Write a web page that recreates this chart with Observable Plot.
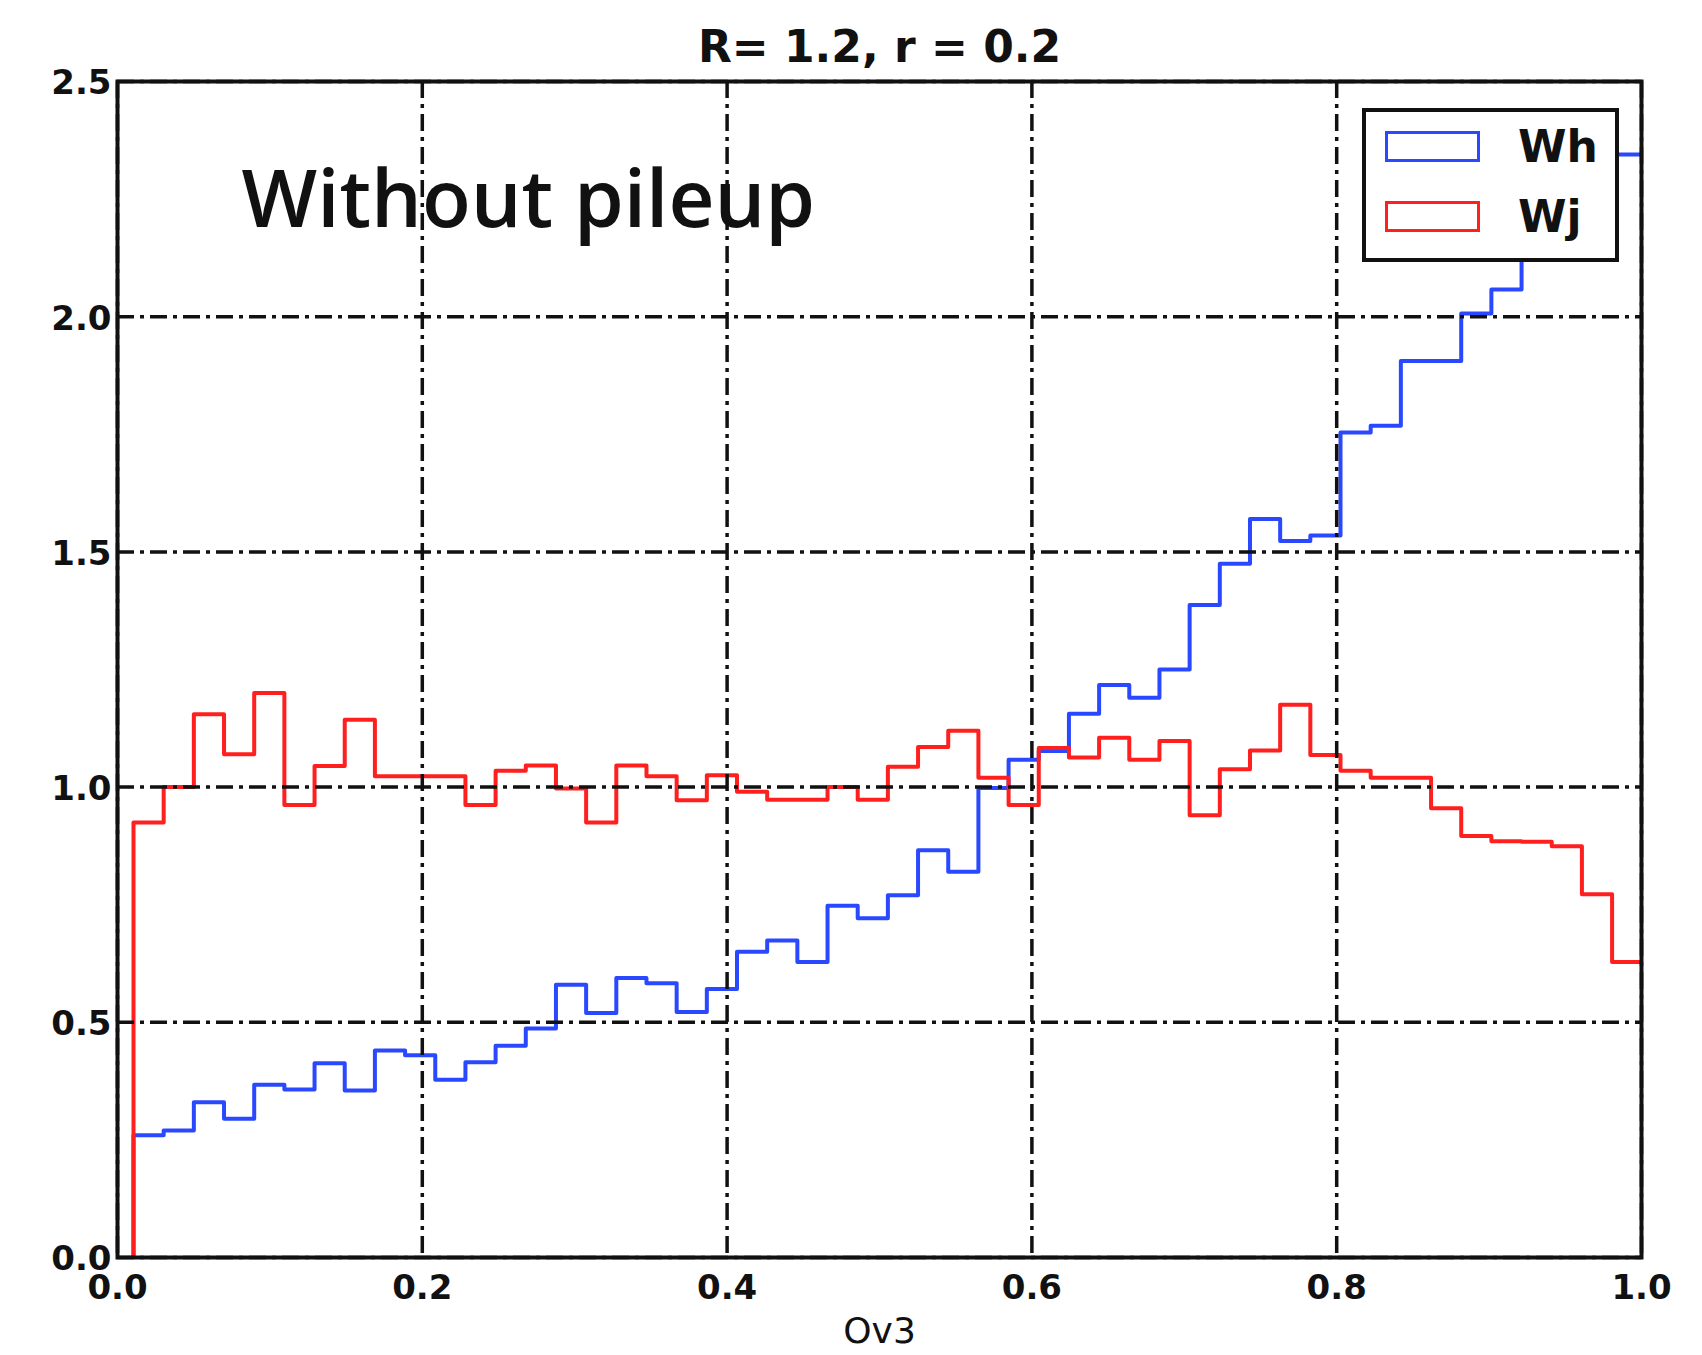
<!DOCTYPE html>
<html>
<head>
<meta charset="utf-8">
<script src="https://cdn.jsdelivr.net/npm/d3@7"></script>
<script src="https://cdn.jsdelivr.net/npm/@observablehq/plot@0.6"></script>
<style>
  html, body { margin: 0; padding: 0; background: white; }
  #wrap { position: relative; width: 1702px; height: 1355px; font-family: "DejaVu Sans", sans-serif; }
  #legend { position: absolute; left: 1362px; top: 108px; width: 249px; height: 146px; border: 4px solid #111; background: white; }
  .sw { position: absolute; left: 19px; width: 95px; height: 31px; border: 3.5px solid; box-sizing: border-box; }
  .lab { position: absolute; left: 152px; font-size: 44px; line-height: 46px; font-weight: bold; color: #111; }
</style>
</head>
<body>
<div id="wrap"></div>
<script>
// ---- data ----
const title = "R= 1.2, r = 0.2";
const xLabel = "Ov3";
const annotation = "Without pileup";
const seriesNames = ["Wh", "Wj"];
const seriesColors = ["#2a48ff", "#ff1f1f"];
const xTicks = [0.0, 0.2, 0.4, 0.6, 0.8, 1.0];
const yTicks = [0.0, 0.5, 1.0, 1.5, 2.0, 2.5];
const binEdges = [0.0105, 0.0303, 0.0501, 0.0699, 0.0897, 0.1095, 0.1293, 0.1491, 0.1689, 0.1887,
  0.2085, 0.2283, 0.2481, 0.2679, 0.2877, 0.3075, 0.3273, 0.3471, 0.3669, 0.3867,
  0.4065, 0.4263, 0.4461, 0.4659, 0.4857, 0.5055, 0.5253, 0.5451, 0.5649, 0.5847,
  0.6045, 0.6243, 0.6441, 0.6639, 0.6837, 0.7035, 0.7233, 0.7431, 0.7629, 0.7827,
  0.8025, 0.8223, 0.8421, 0.8619, 0.8817, 0.9015, 0.9213, 0.9411, 0.9609, 0.9807, 1.0];
const whValues = [0.26, 0.27, 0.33, 0.295, 0.367, 0.357, 0.413, 0.355, 0.44, 0.43,
  0.378, 0.415, 0.45, 0.487, 0.58, 0.52, 0.594, 0.583, 0.522, 0.571,
  0.65, 0.674, 0.628, 0.748, 0.721, 0.77, 0.866, 0.82, 0.998, 1.058,
  1.077, 1.156, 1.217, 1.19, 1.25, 1.387, 1.475, 1.57, 1.523, 1.535,
  1.754, 1.768, 1.906, 1.906, 2.007, 2.058, 2.17, 2.24, 2.3, 2.345];
const wjValues = [0.925, 1.0, 1.155, 1.07, 1.2, 0.962, 1.045, 1.143, 1.023, 1.023,
  1.023, 0.962, 1.035, 1.046, 0.997, 0.925, 1.046, 1.023, 0.972, 1.025,
  0.99, 0.973, 0.973, 1.0, 0.973, 1.043, 1.085, 1.12, 1.02, 0.962,
  1.083, 1.063, 1.105, 1.058, 1.098, 0.94, 1.038, 1.078, 1.175, 1.068,
  1.035, 1.02, 1.02, 0.955, 0.896, 0.885, 0.884, 0.874, 0.772, 0.628];

// ---- build step outlines (histtype='step'); the closing edge at x=1 lies under the frame ----
function stepRows(values, name) {
  const rows = [{x: binEdges[0], y: 0, s: name}];
  values.forEach((v, i) => rows.push({x: binEdges[i], y: v, s: name}));
  const n = values.length;
  rows.push({x: binEdges[n], y: values[n - 1], s: name});
  return rows;
}
const whRows = stepRows(whValues, seriesNames[0]);
const wjRows = stepRows(wjValues, seriesNames[1]);

const dash = "17,6,4,6";
const chart = Plot.plot({
  width: 1702,
  height: 1355,
  marginLeft: 117,
  marginRight: 61,
  marginTop: 81,
  marginBottom: 98,
  style: {fontFamily: "DejaVu Sans, sans-serif", background: "white", color: "#111"},
  x: {domain: [0, 1]},
  y: {domain: [0, 2.5]},
  marks: [
    Plot.line(whRows, {x: "x", y: "y", curve: "step-after", stroke: seriesColors[0], strokeWidth: 4, clip: true}),
    Plot.line(wjRows, {x: "x", y: "y", curve: "step-after", stroke: seriesColors[1], strokeWidth: 4, clip: true}),
    Plot.gridX(xTicks, {stroke: "#111", strokeOpacity: 1, strokeWidth: 3.5, strokeDasharray: dash}),
    Plot.gridY(yTicks, {stroke: "#111", strokeOpacity: 1, strokeWidth: 3.5, strokeDasharray: dash}),
    Plot.text([annotation], {frameAnchor: "top-left", textAnchor: "start", dx: 124, dy: 120,
      fontSize: 80, fontWeight: 600, fontFamily: "Open Sans", fill: "#111", lineAnchor: "middle"}),
    Plot.frame({stroke: "#111", strokeWidth: 4}),
    Plot.axisX(xTicks, {tickSize: 0, tickPadding: 17, fontSize: 34, fontWeight: "bold", tickFormat: d3.format(".1f"), label: null}),
    Plot.axisY(yTicks, {tickSize: 0, tickPadding: 6, fontSize: 34, fontWeight: "bold", tickFormat: d3.format(".1f"), label: null, dy: 2}),
    Plot.text([title], {frameAnchor: "top", dy: -34, fontSize: 44, fontWeight: "bold", lineAnchor: "middle", fill: "#111"}),
    Plot.text([xLabel], {frameAnchor: "bottom", dy: 74, fontSize: 36, lineAnchor: "middle", fill: "#111"})
  ]
});

const wrap = document.getElementById("wrap");
wrap.appendChild(chart);

// legend (drawn over the axes, upper right)
const legend = document.createElement("div");
legend.id = "legend";
seriesNames.forEach((name, i) => {
  const sw = document.createElement("div");
  sw.className = "sw";
  sw.style.borderColor = seriesColors[i];
  sw.style.top = (19 + i * 70) + "px";
  legend.appendChild(sw);
  const lab = document.createElement("div");
  lab.className = "lab";
  lab.textContent = name;
  lab.style.top = (12 + i * 70) + "px";
  legend.appendChild(lab);
});
wrap.appendChild(legend);
</script>
</body>
</html>
